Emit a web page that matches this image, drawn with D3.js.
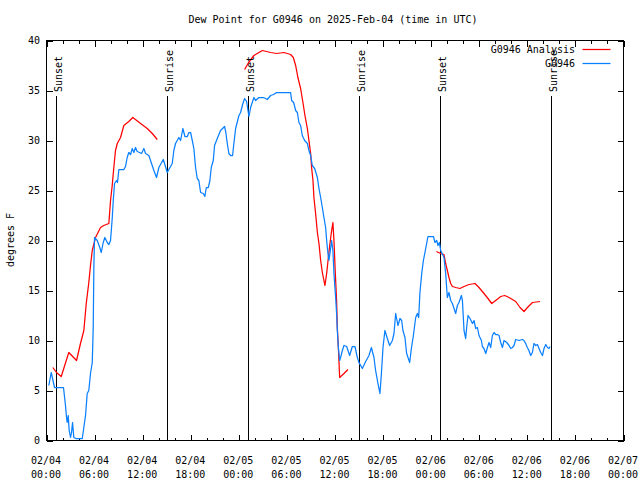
<!DOCTYPE html>
<html>
<head>
<meta charset="utf-8">
<script src="https://cdn.jsdelivr.net/npm/d3@7"></script>
<style>
  html, body { margin: 0; padding: 0; background: #fff; }
  svg { display: block; }
  text { font-family: "DejaVu Sans Mono", "Liberation Mono", monospace; font-size: 10px; fill: #000; }
</style>
</head>
<body>
<svg id="chart" width="640" height="480"></svg>
<script>
// ---------------- DATA ----------------
const title = "Dew Point for G0946 on 2025-Feb-04 (time in UTC)";
const yLabel = "degrees F";
const seriesNames = ["G0946 Analysis", "G0946"];
const seriesColors = ["#ff0000", "#0a80ff"];

// hours since 2025-02-04 00:00 UTC
const obsHours = [0.29,0.59,1.0,1.96,2.12,2.37,2.50,2.58,2.71,2.83,3.0,3.12,3.25,3.41,3.66,4.46,4.66,4.87,5.08,5.28,5.49,5.71,5.83,5.91,5.99,6.33,6.65,6.83,7.08,7.28,7.58,7.78,7.99,8.20,8.33,8.49,8.74,8.86,9.03,9.65,9.86,10.07,10.27,10.49,10.70,10.90,11.11,11.32,11.61,11.86,12.15,12.36,12.57,12.77,12.98,13.40,13.73,14.02,14.57,14.73,15.07,15.27,15.69,15.89,16.10,16.52,16.73,17.02,17.27,17.57,17.77,17.98,18.19,18.39,18.60,18.81,19.01,19.23,19.56,19.76,19.94,20.19,20.39,20.56,20.81,20.97,21.31,21.72,22.22,22.38,22.56,22.76,22.97,23.22,23.38,23.60,24.01,24.22,24.47,24.72,24.97,25.26,25.47,25.88,26.09,26.50,27.09,27.55,27.97,28.34,28.71,30.46,30.59,30.84,31.09,31.30,31.50,31.71,31.92,32.21,32.55,32.75,32.96,33.17,33.46,33.80,34.00,34.21,34.42,34.62,34.83,34.96,35.12,35.24,35.42,35.58,35.74,35.87,36.08,36.20,36.29,36.42,36.58,36.70,36.92,37.12,37.45,37.83,38.16,38.49,38.79,38.99,39.41,39.83,40.24,40.54,40.86,41.07,41.36,41.61,41.79,41.99,42.23,42.53,42.82,43.16,43.36,43.57,43.86,44.11,44.32,44.48,44.73,44.94,45.32,45.53,45.78,46.07,46.28,46.44,46.60,46.82,47.03,47.32,47.60,48.28,48.48,48.69,48.85,49.03,49.19,49.60,49.81,50.02,50.22,50.44,50.65,50.85,51.06,51.27,51.47,51.77,51.90,52.10,52.31,52.43,52.60,52.85,53.15,53.35,53.56,53.77,53.97,54.27,54.39,54.59,54.81,55.02,55.22,55.43,55.64,55.84,56.05,56.27,56.47,56.68,56.89,57.09,57.43,57.72,57.93,58.14,58.34,58.55,58.96,59.38,59.58,59.79,60.00,60.20,60.42,60.63,60.83,61.05,61.26,61.46,61.67,61.89,62.08,62.30,62.51,62.71,62.84];
const obsValues = [5.5,6.8,5.3,5.3,5.3,3.5,2.3,1.8,2.5,1.0,0.3,0.8,1.8,0.3,0.2,0.2,1.3,2.5,4.7,5.0,6.7,7.8,11.3,17.3,20.3,20.0,19.3,18.8,19.8,20.3,19.8,19.6,20.0,22.2,24.0,25.7,26.0,25.8,27.1,27.1,27.4,28.3,28.8,28.6,29.2,28.8,29.3,28.9,28.8,28.7,29.2,28.7,28.6,28.5,28.0,27.0,26.3,27.3,28.1,27.7,26.8,27.1,27.7,29.0,29.7,30.3,30.0,31.2,30.4,30.4,30.8,30.8,30.0,29.2,27.3,26.2,26.0,24.8,24.7,24.4,25.3,25.3,26.0,27.3,28.0,29.5,30.2,31.0,31.4,30.8,29.7,28.7,28.5,28.5,29.7,31.2,32.5,32.8,33.6,34.2,33.9,32.4,33.3,34.3,34.0,34.3,34.3,34.1,34.5,34.6,34.8,34.8,34.0,33.8,33.0,32.8,31.8,31.5,30.5,30.0,29.7,29.0,28.5,27.5,27.2,26.3,25.2,24.3,23.3,22.3,21.3,20.0,18.7,18.0,19.0,20.0,19.0,16.7,14.3,12.7,11.0,9.3,8.0,8.3,9.0,9.5,9.4,8.5,9.4,9.4,8.3,7.8,7.2,7.9,8.5,9.3,8.3,7.0,5.7,4.7,6.7,9.3,11.0,10.2,9.5,10.0,10.7,12.7,11.5,12.2,12.0,11.0,10.3,8.7,7.8,9.2,10.5,12.3,12.7,12.3,14.8,16.7,18.0,19.2,20.4,20.4,19.8,20.0,19.5,19.8,19.0,18.3,16.7,14.3,14.8,14.0,13.7,13.2,12.7,13.5,13.8,14.5,14.0,11.0,10.2,11.3,12.5,12.2,11.7,12.0,11.2,11.3,10.5,10.0,9.4,9.2,8.7,9.3,9.8,9.3,10.5,10.8,10.6,10.6,10.5,9.8,9.3,10.0,9.8,9.5,9.2,9.3,9.5,10.1,10.0,10.1,10.0,9.7,9.3,9.0,8.5,8.8,9.7,9.5,9.6,9.2,8.8,8.5,9.2,9.6,9.3,9.2,9.4];

// analysis series; null marks a gap
const anaHours = [0.79,1.25,1.84,2.78,3.75,4.24,4.66,4.96,5.28,5.49,5.71,6.12,6.74,7.15,7.78,7.99,8.20,8.40,8.61,8.83,9.24,9.65,10.27,10.77,11.74,12.57,13.20,13.82,
  19.0,
  24.72,25.22,25.88,26.93,27.97,28.71,29.63,30.46,30.80,31.09,31.37,31.71,32.00,32.25,32.55,32.75,32.96,33.08,33.25,33.37,33.58,33.80,34.00,34.21,34.42,34.62,34.74,34.96,35.17,35.37,35.58,35.74,35.87,36.04,36.20,36.29,36.42,36.58,37.12,37.62,
  43.0,
  48.65,49.19,49.60,49.81,50.02,50.22,50.44,50.65,51.06,51.59,52.10,52.72,53.47,53.97,54.59,55.09,55.56,56.05,56.68,57.18,57.72,58.55,59.09,59.59,60.01,60.64,61.59];
const anaValues = [7.3,6.8,6.4,8.8,8.0,9.7,11.0,13.7,15.8,17.5,19.0,20.3,21.3,21.5,21.7,24.0,25.5,27.3,29.0,29.7,30.3,31.5,31.9,32.3,31.7,31.2,30.7,30.1,
  null,
  37.1,37.8,38.5,39.0,38.8,38.7,38.8,38.6,38.3,37.5,36.3,35.2,33.8,32.5,31.2,30.0,28.7,27.3,26.0,24.3,22.7,20.8,19.7,18.0,16.8,16.0,15.5,16.7,18.3,19.7,21.0,21.8,20.0,16.7,14.0,11.3,9.3,6.3,6.7,7.1,
  null,
  18.9,18.7,18.6,17.7,17.0,16.3,15.7,15.4,15.3,15.2,15.4,15.6,15.7,15.3,14.7,14.2,13.7,14.0,14.4,14.5,14.3,13.9,13.3,12.9,13.3,13.8,13.9];

const sunsetHours = [1.25, 25.2, 49.2];
const sunriseHours = [15.1, 39.0, 63.0];
const xTickHours = [0,6,12,18,24,30,36,42,48,54,60,66,72];
const xMinorHours = d3.range(0, 73, 2);
const yTicks = [0,5,10,15,20,25,30,35,40];

// ---------------- CHART ----------------
const start = Date.UTC(2025, 1, 4, 0, 0);
const toDate = h => new Date(start + h * 3600e3);
const fmtDay = d3.utcFormat("%m/%d");
const fmtTime = d3.utcFormat("%H:%M");

const L = 46, R = 623, T = 40, B = 440;
const svg = d3.select("#chart");
const x = d3.scaleUtc().domain([toDate(0), toDate(72)]).range([L, R]);
const y = d3.scaleLinear().domain([0, 40]).range([B, T]);

const g = svg.append("g").attr("transform", "translate(0.5,0.5)");

// title
svg.append("text").attr("x", 333).attr("y", 23).attr("text-anchor", "middle").text(title);
// y label
svg.append("text").attr("transform", "translate(14,240) rotate(-90)").attr("text-anchor", "middle").text(yLabel);

// axes (inward ticks)
function styleAxis(sel) {
  sel.select(".domain").remove();
  sel.selectAll("line").attr("stroke", "#000").attr("shape-rendering", "crispEdges");
}
g.append("g").attr("transform", `translate(0,${B})`)
  .call(d3.axisBottom(x).tickValues(xMinorHours.map(toDate)).tickSize(-3).tickFormat("")).call(styleAxis);
g.append("g").attr("transform", `translate(0,${B})`)
  .call(d3.axisBottom(x).tickValues(xTickHours.map(toDate)).tickSize(-6).tickFormat("")).call(styleAxis);
g.append("g").attr("transform", `translate(0,${T})`)
  .call(d3.axisTop(x).tickValues(xMinorHours.map(toDate)).tickSize(-3).tickFormat("")).call(styleAxis);
g.append("g").attr("transform", `translate(0,${T})`)
  .call(d3.axisTop(x).tickValues(xTickHours.map(toDate)).tickSize(-6).tickFormat("")).call(styleAxis);
g.append("g").attr("transform", `translate(${L},0)`)
  .call(d3.axisLeft(y).tickValues(yTicks).tickSize(-6).tickFormat("")).call(styleAxis);
g.append("g").attr("transform", `translate(${R},0)`)
  .call(d3.axisRight(y).tickValues(yTicks).tickSize(-6).tickFormat("")).call(styleAxis);

// tick labels
const xl = svg.append("g");
xTickHours.forEach(h => {
  const d = toDate(h);
  const t = xl.append("text").attr("text-anchor", "middle");
  t.append("tspan").attr("x", x(d)).attr("y", 464).text(fmtDay(d));
  t.append("tspan").attr("x", x(d)).attr("y", 478).text(fmtTime(d));
});
svg.append("g").selectAll("text").data(yTicks).join("text")
  .attr("x", 40).attr("y", d => y(d) + 4).attr("text-anchor", "end").text(d => d);

// frame
g.append("rect").attr("x", L).attr("y", T).attr("width", R - L).attr("height", B - T)
  .attr("fill", "none").attr("stroke", "#000").attr("shape-rendering", "crispEdges");

// sunrise / sunset
const events = sunsetHours.map(h => ({h, label: "Sunset"}))
  .concat(sunriseHours.map(h => ({h, label: "Sunrise"})));
events.forEach(e => {
  const xp = Math.round(x(toDate(e.h)));
  g.append("line").attr("x1", xp).attr("x2", xp).attr("y1", 95).attr("y2", B)
    .attr("stroke", "#000").attr("shape-rendering", "crispEdges");
  svg.append("text").attr("transform", `translate(${xp + 6},92) rotate(-90)`)
    .attr("text-anchor", "start").text(e.label);
});

// series
const line = d3.line().defined(d => d.v !== null).x(d => x(toDate(d.h))).y(d => y(d.v));
const anaData = anaHours.map((h, i) => ({h, v: anaValues[i]}));
const obsData = obsHours.map((h, i) => ({h, v: obsValues[i]}));
g.append("path").datum(anaData).attr("d", line).attr("fill", "none")
  .attr("stroke", seriesColors[0]).attr("stroke-width", 1.25).attr("stroke-linejoin", "round");
g.append("path").datum(obsData).attr("d", line).attr("fill", "none")
  .attr("stroke", seriesColors[1]).attr("stroke-width", 1.25).attr("stroke-linejoin", "round");

// legend
seriesNames.forEach((name, i) => {
  const yy = 49 + i * 14;
  svg.append("text").attr("x", 575).attr("y", yy + 4).attr("text-anchor", "end").text(name);
  g.append("line").attr("x1", 582).attr("x2", 610).attr("y1", yy).attr("y2", yy)
    .attr("stroke", seriesColors[i]).attr("stroke-width", 1.25);
});
</script>
</body>
</html>
